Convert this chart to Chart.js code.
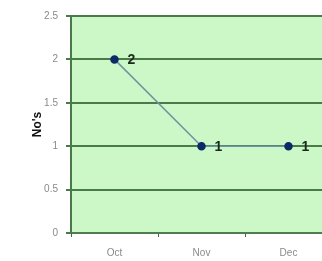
<!DOCTYPE html>
<html lang="en">
<head>
  <meta charset="UTF-8" />
  <title>No's by month</title>
  <script src="https://cdn.jsdelivr.net/npm/chart.js"></script>
  <style>
    html, body { margin: 0; padding: 0; background: #ffffff; overflow: hidden; }
    #wrap { width: 322px; height: 261px; overflow: hidden; }
    #wrap canvas { display: block; }
  </style>
</head>
<body>
  <div id="wrap"><canvas id="chart" width="340" height="261"></canvas></div>
  <script>
    const months = ['Oct', 'Nov', 'Dec'];
    const counts = [2, 1, 1];
    const yTicks = [0, 0.5, 1, 1.5, 2, 2.5];

    const plotBg = {
      id: 'plotBg',
      beforeDraw(chart) {
        const a = chart.chartArea, c = chart.ctx;
        c.save();
        c.fillStyle = '#ccf7c6';
        c.fillRect(a.left, a.top, a.right - a.left, a.bottom - a.top);
        c.restore();
      }
    };

    // value labels next to each point
    const valueLabels = {
      id: 'valueLabels',
      afterDatasetsDraw(chart) {
        const c = chart.ctx;
        const meta = chart.getDatasetMeta(0);
        c.save();
        c.font = 'bold 14px "Liberation Sans", Arial, sans-serif';
        c.fillStyle = '#1a2a1a';
        c.textBaseline = 'middle';
        meta.data.forEach((pt, i) => {
          c.fillText(String(counts[i]), pt.x + 13, pt.y + 1);
        });
        c.restore();
      }
    };

    const tickFont = { size: 10, family: 'Arial, "Liberation Sans", sans-serif' };

    new Chart(document.getElementById('chart'), {
      type: 'line',
      data: {
        labels: months,
        datasets: [{
          data: counts,
          borderColor: '#6d93a6',
          borderWidth: 1.5,
          pointBackgroundColor: '#0b2a66',
          pointBorderColor: '#0b2a66',
          pointRadius: 3.5,
          tension: 0
        }]
      },
      options: {
        responsive: false,
        animation: false,
        layout: { padding: { left: 30, top: 16, right: 8, bottom: 0 } },
        plugins: { legend: { display: false }, tooltip: { enabled: false } },
        scales: {
          x: {
            offset: true,
            grid: { offset: true, drawOnChartArea: false, drawTicks: true, tickLength: 4, color: '#3d6b3d', lineWidth: 1 },
            border: { color: '#4f7d4f', width: 2 },
            ticks: { color: '#8a8a8a', font: tickFont, padding: 10 },
            afterFit(s) { s.height = 28; }
          },
          y: {
            min: 0,
            max: 2.5,
            afterBuildTicks(s) { s.ticks = yTicks.map(v => ({ value: v })); },
            grid: { color: '#4a7a4a', lineWidth: 2, tickLength: 5 },
            border: { color: '#4a7a4a', width: 2 },
            ticks: { color: '#8a8a8a', font: tickFont, padding: 8, callback: v => String(v) },
            title: { display: true, text: "No's", color: '#111', font: { size: 12, weight: 'bold', family: 'Arial, "Liberation Sans", sans-serif' }, padding: 0 },
            afterFit(s) { s.width = 41; }
          }
        }
      },
      plugins: [plotBg, valueLabels]
    });
  </script>
</body>
</html>
